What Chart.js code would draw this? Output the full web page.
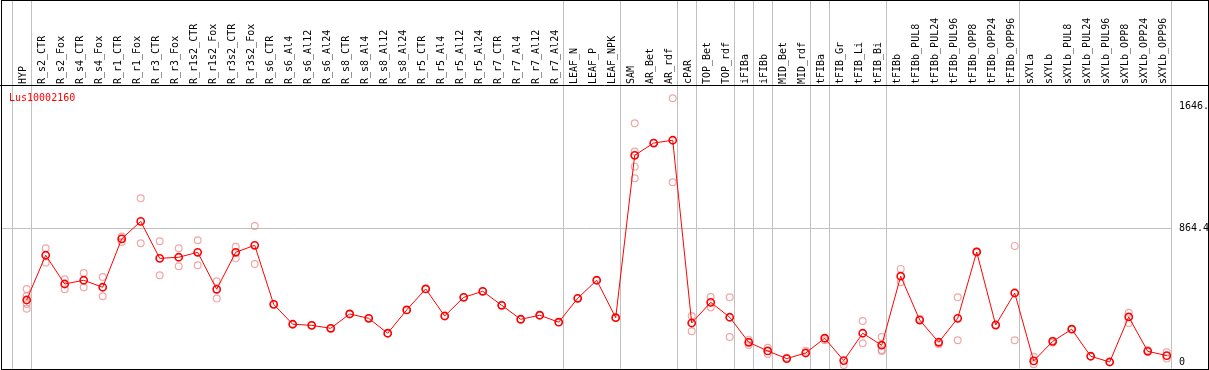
<!DOCTYPE html>
<html>
<head>
<meta charset="utf-8">
<script src="https://cdn.jsdelivr.net/npm/chart.js@4"></script>
<style>
  html, body { margin: 0; padding: 0; background: #fff; }
  canvas { display: block; }
</style>
</head>
<body>
<canvas id="expresion" width="1209" height="370"></canvas>
<script>
const geneName = 'Lus10002160';

const categories = [
    'HYP', 'R_s2_CTR', 'R_s2_Fox', 'R_s4_CTR', 'R_s4_Fox', 'R_r1_CTR', 'R_r1_Fox', 'R_r3_CTR', 'R_r3_Fox',
    'R_r1s2_CTR', 'R_r1s2_Fox', 'R_r3s2_CTR', 'R_r3s2_Fox', 'R_s6_CTR', 'R_s6_Al4', 'R_s6_Al12', 'R_s6_Al24',
    'R_s8_CTR', 'R_s8_Al4', 'R_s8_Al12', 'R_s8_Al24', 'R_r5_CTR', 'R_r5_Al4', 'R_r5_Al12', 'R_r5_Al24',
    'R_r7_CTR', 'R_r7_Al4', 'R_r7_Al12', 'R_r7_Al24', 'LEAF_N', 'LEAF_P', 'LEAF_NPK', 'SAM', 'AR_Bet', 'AR_rdf',
    'cPAR', 'TOP_Bet', 'TOP_rdf', 'iFIBa', 'iFIBb', 'MID_Bet', 'MID_rdf', 'tFIBa', 'tFIB_Gr', 'tFIB_Li', 'tFIB_Bi',
    'tFIBb', 'tFIBb_PUL8', 'tFIBb_PUL24', 'tFIBb_PUL96', 'tFIBb_OPP8', 'tFIBb_OPP24', 'tFIBb_OPP96',
    'sXYLa', 'sXYLb', 'sXYLb_PUL8', 'sXYLb_PUL24', 'sXYLb_PUL96', 'sXYLb_OPP8', 'sXYLb_OPP24', 'sXYLb_OPP96'
];

const meanValues = [
    402, 690, 505, 529, 484, 795, 908, 670, 677, 709, 471, 709, 754,
    374, 246, 239, 220, 312, 284, 188, 338, 473, 299, 419, 458, 368, 278, 304, 259,
    413, 529, 288, 1333, 1412, 1430,
    254, 387, 291, 130, 74, 25, 61, 156, 12, 188, 111,
    555, 273, 130, 284, 711, 241, 447,
    10, 136, 214, 40, 3, 293, 72, 44
];

// replicas por muestra
const replicateValues = [
    [473, 428, 376, 346], [735, 642], [535, 471], [576, 484], [550, 426], [810, 775], [1056, 767],
    [780, 561], [735, 619], [786, 625], [522, 411], [745, 670], [878, 634],
    [374], [246], [239], [220], [312], [284], [188], [338], [473], [299], [419], [458], [368], [278], [304], [259],
    [413], [529], [288], [1539, 1357, 1260, 1185], [1412], [1700, 1160],
    [299, 201], [421, 353], [419, 164], [147, 113], [95, 55], [30], [76], [143], [-16], [267, 123], [164, 80, 74],
    [602, 516], [282], [117], [419, 143], [714], [241], [750, 143],
    [37, -12], [140, 128], [214], [40], [3], [320, 254], [80], [66, 25]
];

// ultimo indice de cada grupo (separadores verticales)
const groupEnds = [-1, 0, 28, 31, 34, 35, 37, 38, 39, 41, 42, 45, 52, 60];

const tickValues = [0, 864.4, 1646.8];
const tickLabels = ['0', '864.4', '1646.8'];

const fuente = '10px "DejaVu Sans Mono", monospace';

const lineData = meanValues.map((v, i) => ({ x: i, y: v }));
const repData = [];
replicateValues.forEach((reps, i) => reps.forEach(v => repData.push({ x: i, y: v })));

const decorado = {
    id: 'decorado',
    beforeDatasetsDraw(chart) {
        const ctx = chart.ctx;
        const xs = chart.scales.x, ys = chart.scales.y;
        const area = chart.chartArea;
        ctx.save();
        ctx.strokeStyle = '#c0c0c0';
        ctx.lineWidth = 1;
        // linea horizontal de la mitad
        const gy = Math.round(ys.getPixelForValue(tickValues[1])) + 0.5;
        ctx.beginPath();
        ctx.moveTo(area.left, gy);
        ctx.lineTo(area.right, gy);
        ctx.stroke();
        groupEnds.forEach(g => {
            const px = Math.round(xs.getPixelForValue(g + 0.22)) + 0.5;
            ctx.beginPath();
            ctx.moveTo(px, 0);
            ctx.lineTo(px, 370);
            ctx.stroke();
        });
        ctx.restore();
    },
    afterDatasetsDraw(chart) {
        const ctx = chart.ctx;
        const xs = chart.scales.x, ys = chart.scales.y;
        ctx.save();
        ctx.font = fuente;
        ctx.fillStyle = '#000';
        ctx.textAlign = 'left';
        ctx.textBaseline = 'alphabetic';
        categories.forEach((c, i) => {
            const px = xs.getPixelForValue(i);
            ctx.save();
            ctx.translate(px - 0.3, 84);
            ctx.rotate(-Math.PI / 2);
            ctx.fillText(c, 0, 0);
            ctx.restore();
        });
        ctx.textBaseline = 'middle';
        tickValues.forEach((t, i) => {
            ctx.fillText(tickLabels[i], 1179, ys.getPixelForValue(t));
        });
        ctx.fillStyle = '#ff0000';
        ctx.textBaseline = 'alphabetic';
        ctx.fillText(geneName, 9, 100.5);

        ctx.strokeStyle = '#000';
        ctx.lineWidth = 1;
        ctx.strokeRect(1.5, 0.5, 1207, 369);
        ctx.beginPath();
        ctx.moveTo(0, 85.5);
        ctx.lineTo(1209, 85.5);
        ctx.stroke();
        ctx.restore();
    }
};

const ctx = document.getElementById('expresion').getContext('2d');
const myChart = new Chart(ctx, {
    type: 'line',
    data: {
        datasets: [{
            label: 'media',
            data: lineData,
            borderColor: '#ff0000',
            borderWidth: 1,
            pointRadius: 3.6,
            pointBorderWidth: 1.6,
            pointBorderColor: '#ff0000',
            pointBackgroundColor: 'rgba(0,0,0,0)',
            tension: 0,
            fill: false
        }, {
            label: 'replicas',
            type: 'scatter',
            data: repData,
            showLine: false,
            pointRadius: 3.4,
            pointBorderWidth: 1.2,
            pointBorderColor: 'rgba(235,130,130,0.7)',
            pointBackgroundColor: 'rgba(0,0,0,0)'
        }]
    },
    options: {
        responsive: false,
        animation: false,
        devicePixelRatio: 1,
        layout: {
            autoPadding: false,
            padding: { left: 2, right: 38, top: 86, bottom: 1 }
        },
        scales: {
            x: { type: 'linear', min: -1.3, max: 60.226, display: false },
            y: { type: 'linear', min: -42, max: 1779, display: false }
        },
        plugins: {
            legend: { display: false },
            tooltip: { enabled: false }
        }
    },
    plugins: [decorado]
});
</script>
</body>
</html>
